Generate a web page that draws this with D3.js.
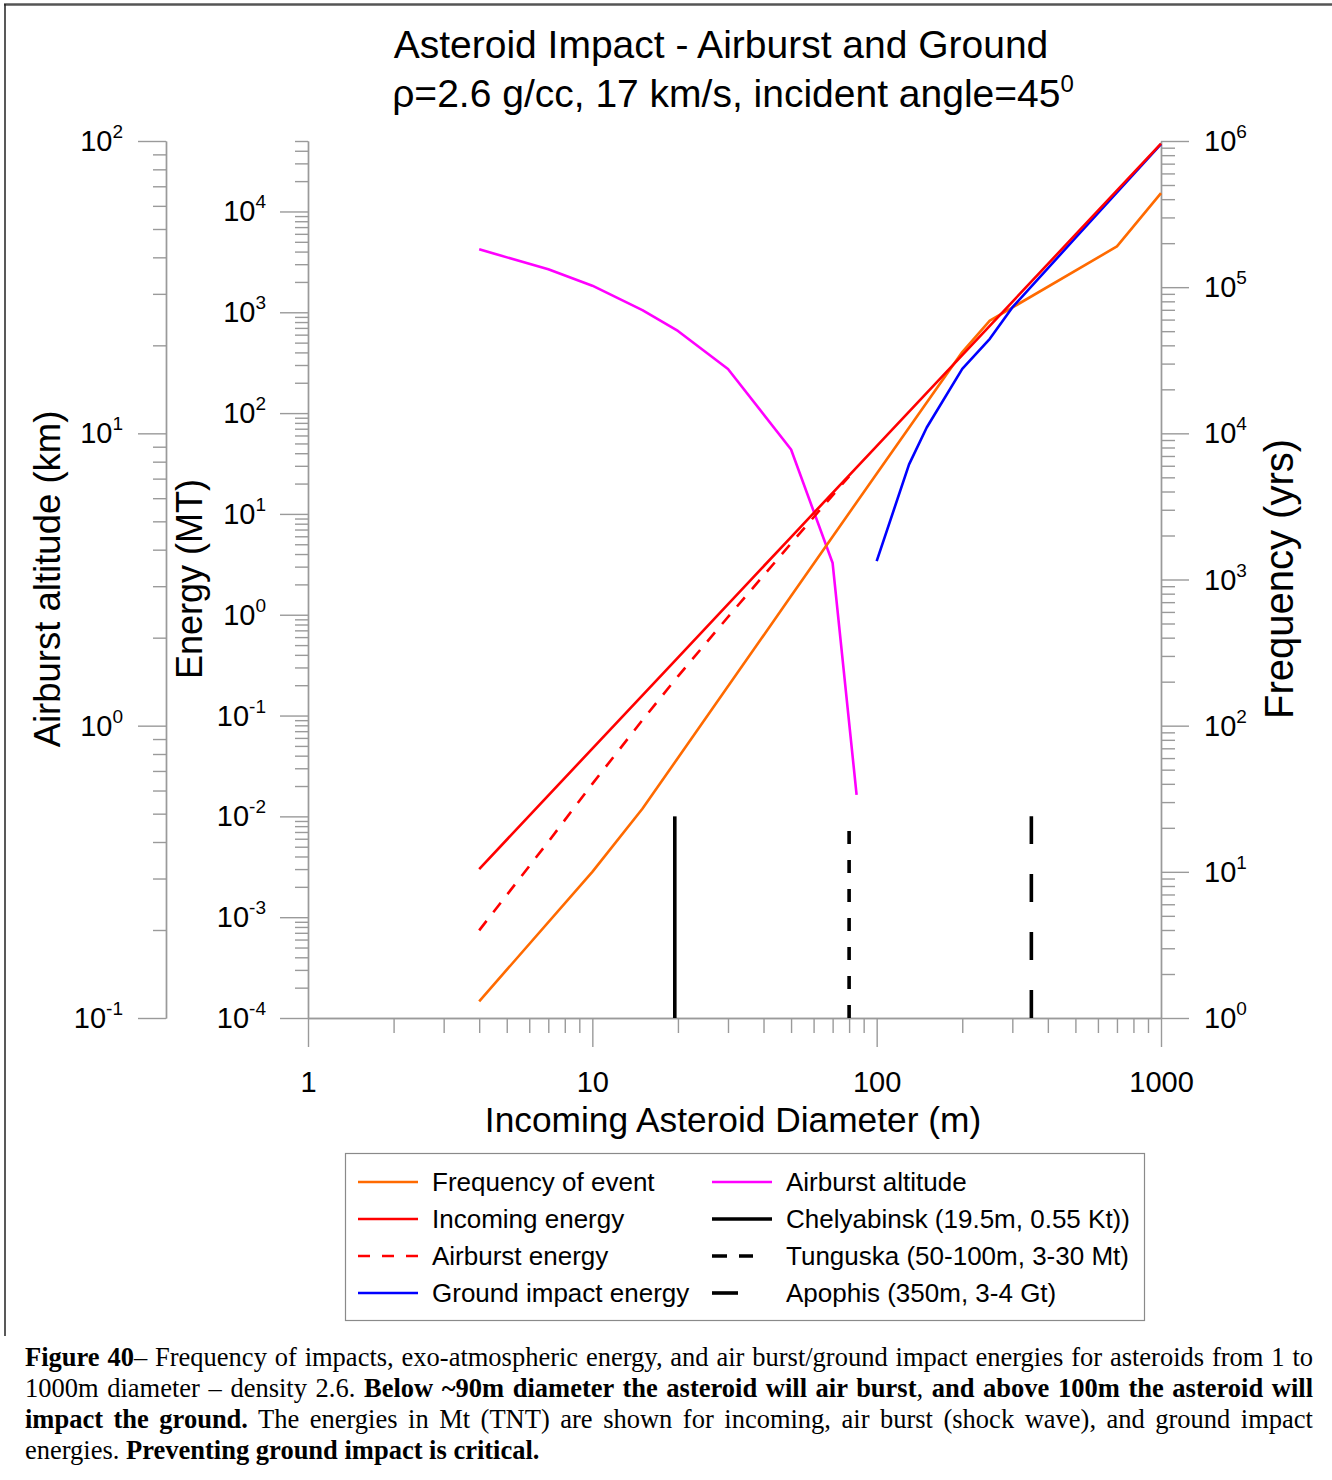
<!DOCTYPE html>
<html><head><meta charset="utf-8">
<script src="https://cdn.jsdelivr.net/npm/d3@7"></script>
<style>
body{margin:0;background:#fff;}
#wrap{position:relative;width:1332px;height:1480px;overflow:hidden;}
svg{position:absolute;left:0;top:0;}
.cap{position:absolute;left:25px;top:1342px;width:1288px;font-family:"Liberation Serif","Times New Roman",serif;font-size:26.5px;line-height:31px;color:#000;}
.cap div{text-align:justify;text-align-last:justify;}
.cap div.last{text-align-last:left;}
</style></head>
<body><div id="wrap"></div>
<script>
// ---------- data ----------
const xMajorTicks = [1, 10, 100, 1000];
const xTickLabels = ["1", "10", "100", "1000"];
const altExps = [-1, 0, 1, 2];
const energyExps = [-4, -3, -2, -1, 0, 1, 2, 3, 4];
const freqExps = [0, 1, 2, 3, 4, 5, 6];

const incomingD = [4, 10, 20, 50, 100, 200, 500, 1000];
const incomingE = [0.0030, 0.047, 0.376, 5.9, 47, 376, 5880, 47000];
const airburstD = [4, 7, 10, 15, 20, 30, 50, 70, 80];
const airburstE = [0.00074, 0.0056, 0.021, 0.09, 0.245, 0.95, 5.1, 15.3, 23.6];
const groundD = [100, 130, 150, 200, 250, 300, 500, 700, 1000];
const groundE = [3.4, 31, 72, 275, 546, 1118, 5460, 15480, 46500];
const freqD = [4, 10, 15, 50, 100, 200, 250, 700, 1000];
const freqYrs = [1.3, 10, 27, 770, 5300, 36000, 59000, 190000, 440000];
const altD = [4, 7, 10, 15, 20, 30, 50, 70, 85];
const altKm = [42.6, 36.4, 32, 26.4, 22.4, 16.6, 8.8, 3.6, 0.58];
const eventNames = ["Chelyabinsk", "Tunguska", "Apophis"];
const eventD = [19.5, 80, 350];
const eventE = [1e-4, 1e-2];

const legendLeft = ["Frequency of event", "Incoming energy", "Airburst energy", "Ground impact energy"];
const legendRight = ["Airburst altitude", "Chelyabinsk (19.5m, 0.55 Kt))", "Tunguska (50-100m, 3-30 Mt)", "Apophis (350m, 3-4 Gt)"];

// ---------- setup ----------
const W = 1332, H = 1480;
const FONT = '"Liberation Sans", Arial, sans-serif';
const svg = d3.select("#wrap").append("svg").attr("width", W).attr("height", H)
  .style("font-family", FONT);

const x = d3.scaleLog().domain([1, 1000]).range([308, 1161]);
const yAlt = d3.scaleLog().domain([0.1, 100]).range([1018, 141]);
const yE = d3.scaleLog().domain([1e-4, 5e4]).range([1018, 141]);
const yF = d3.scaleLog().domain([1, 1e6]).range([1018, 141]);

const AX = "#9a9a9a";

// frame
svg.append("line").attr("x1", 4).attr("x2", W).attr("y1", 4.5).attr("y2", 4.5).attr("stroke", "#555").attr("stroke-width", 2.5);
svg.append("line").attr("x1", 5).attr("x2", 5).attr("y1", 4).attr("y2", 1336).attr("stroke", "#222").attr("stroke-width", 1.5);

function minorVals(lo, hi) {
  const out = [];
  for (let e = Math.floor(Math.log10(lo)) ; e <= Math.ceil(Math.log10(hi)); e++) {
    for (let m = 2; m <= 9; m++) { const v = m * Math.pow(10, e); if (v >= lo * 0.999 && v <= hi * 1.001) out.push(v); }
  }
  return out;
}
function styleAxis(g) {
  g.selectAll("path,line").attr("stroke", AX).attr("stroke-width", 1.4);
  g.selectAll("text").remove();
}

// altitude axis (outer left)
const gAltMin = svg.append("g").attr("transform", "translate(166,0)")
  .call(d3.axisLeft(yAlt).tickValues(minorVals(0.1, 100)).tickSize(13).tickSizeOuter(0).tickFormat(""));
styleAxis(gAltMin);
const gAlt = svg.append("g").attr("transform", "translate(166,0)")
  .call(d3.axisLeft(yAlt).tickValues(altExps.map(e => Math.pow(10, e))).tickSize(28).tickSizeOuter(0).tickFormat(""));
styleAxis(gAlt);

// energy axis (inner left)
const gEMin = svg.append("g").attr("transform", "translate(308,0)")
  .call(d3.axisLeft(yE).tickValues(minorVals(1e-4, 5e4)).tickSize(13).tickSizeOuter(0).tickFormat(""));
styleAxis(gEMin);
const gE = svg.append("g").attr("transform", "translate(308,0)")
  .call(d3.axisLeft(yE).tickValues(energyExps.map(e => Math.pow(10, e))).tickSize(28).tickSizeOuter(0).tickFormat(""));
styleAxis(gE);

// frequency axis (right)
const gFMin = svg.append("g").attr("transform", "translate(1161,0)")
  .call(d3.axisRight(yF).tickValues(minorVals(1, 1e6)).tickSize(14).tickSizeOuter(0).tickFormat(""));
styleAxis(gFMin);
const gF = svg.append("g").attr("transform", "translate(1161,0)")
  .call(d3.axisRight(yF).tickValues(freqExps.map(e => Math.pow(10, e))).tickSize(28).tickSizeOuter(0).tickFormat(""));
styleAxis(gF);

// x axis
const gXMin = svg.append("g").attr("transform", "translate(0,1018)")
  .call(d3.axisBottom(x).tickValues(minorVals(1, 1000)).tickSize(15).tickSizeOuter(0).tickFormat(""));
styleAxis(gXMin);
const gX = svg.append("g").attr("transform", "translate(0,1018)")
  .call(d3.axisBottom(x).tickValues(xMajorTicks).tickSize(29).tickSizeOuter(0).tickFormat((d, i) => xTickLabels[i]).tickPadding(24));
gX.selectAll("path,line").attr("stroke", AX).attr("stroke-width", 1.4);
gX.selectAll("text").attr("font-size", 29).attr("font-family", FONT).attr("fill", "#000");

// power-of-ten labels
function powLabel(xp, yp, exp, anchor) {
  const t = svg.append("text").attr("x", xp).attr("y", yp + 10).attr("text-anchor", anchor)
    .attr("font-size", 29).attr("fill", "#000");
  t.append("tspan").text("10");
  t.append("tspan").attr("dy", -13).attr("font-size", 19).text(String(exp));
}
altExps.forEach(e => powLabel(123, yAlt(Math.pow(10, e)), e, "end"));
energyExps.forEach(e => powLabel(266, yE(Math.pow(10, e)), e, "end"));
freqExps.forEach(e => powLabel(1204, yF(Math.pow(10, e)), e, "start"));

// axis titles
svg.append("text").attr("transform", "translate(60,579) rotate(-90)").attr("text-anchor", "middle")
  .attr("font-size", 36.5).text("Airburst altitude (km)");
svg.append("text").attr("transform", "translate(202,579) rotate(-90)").attr("text-anchor", "middle")
  .attr("font-size", 36).text("Energy (MT)");
svg.append("text").attr("transform", "translate(1293,579) rotate(-90)").attr("text-anchor", "middle")
  .attr("font-size", 40).text("Frequency (yrs)");
svg.append("text").attr("x", 733).attr("y", 1132).attr("text-anchor", "middle")
  .attr("font-size", 35.3).text("Incoming Asteroid Diameter (m)");

// title
svg.append("text").attr("x", 721).attr("y", 58).attr("text-anchor", "middle").attr("font-size", 39)
  .text("Asteroid Impact - Airburst and Ground");
const t2 = svg.append("text").attr("x", 733).attr("y", 107).attr("text-anchor", "middle").attr("font-size", 39);
t2.append("tspan").text("ρ=2.6 g/cc, 17 km/s, incident angle=45");
t2.append("tspan").attr("dy", -15).attr("font-size", 24).text("0");

// ---------- series ----------
const COL = { orange: "#ff6a00", red: "#ff0000", magenta: "#ff00ff", blue: "#0000ff", black: "#000" };
function drawLine(ds, vs, ys, color, dash, width) {
  const pts = ds.map((d, i) => [x(d), ys(vs[i])]);
  svg.append("path").attr("d", d3.line()(pts)).attr("fill", "none").attr("stroke", color)
    .attr("stroke-width", width || 2.6).attr("stroke-dasharray", dash || null)
    .attr("stroke-linejoin", "round");
}
drawLine(altD, altKm, yAlt, COL.magenta);
drawLine(freqD, freqYrs, yF, COL.orange);
drawLine(groundD, groundE, yE, COL.blue);
drawLine(airburstD, airburstE, yE, COL.red, "12,11");
drawLine(incomingD, incomingE, yE, COL.red);

// event markers (drawn bottom-up)
const eventDash = [null, "13,16", "28,30"];
eventD.forEach((d, i) => {
  svg.append("path").attr("d", d3.line()([[x(d), yE(eventE[0])], [x(d), yE(eventE[1])]]))
    .attr("stroke", COL.black).attr("stroke-width", 3.6).attr("fill", "none")
    .attr("stroke-dasharray", eventDash[i]);
});

// ---------- legend ----------
const lg = svg.append("g");
lg.append("rect").attr("x", 345.5).attr("y", 1153.5).attr("width", 799).attr("height", 167)
  .attr("fill", "#fff").attr("stroke", "#8a8a8a").attr("stroke-width", 1.2);
const rowsY = [1182, 1219, 1256, 1293];
const leftStyles = [[COL.orange, null], [COL.red, null], [COL.red, "12,12"], [COL.blue, null]];
legendLeft.forEach((s, i) => {
  lg.append("line").attr("x1", 358).attr("x2", 418).attr("y1", rowsY[i]).attr("y2", rowsY[i])
    .attr("stroke", leftStyles[i][0]).attr("stroke-width", 2.6).attr("stroke-dasharray", leftStyles[i][1]);
  lg.append("text").attr("x", 432).attr("y", rowsY[i] + 9).attr("font-size", 26).text(s);
});
const rightSeg = [[712, 772, COL.magenta, 2.6, null], [712, 772, COL.black, 3.6, null], [712, 753, COL.black, 3.6, "15,12"], [712, 738, COL.black, 3.6, null]];
legendRight.forEach((s, i) => {
  const r = rightSeg[i];
  lg.append("line").attr("x1", r[0]).attr("x2", r[1]).attr("y1", rowsY[i]).attr("y2", rowsY[i])
    .attr("stroke", r[2]).attr("stroke-width", r[3]).attr("stroke-dasharray", r[4]);
  lg.append("text").attr("x", 786).attr("y", rowsY[i] + 9).attr("font-size", 26).text(s);
});

// ---------- caption ----------
const cap = d3.select("#wrap").append("div").attr("class", "cap");
cap.append("div").html("<b>Figure 40</b>– Frequency of impacts, exo-atmospheric energy, and air burst/ground impact energies for asteroids from 1 to");
cap.append("div").html("1000m diameter – density 2.6. <b>Below ~90m diameter the asteroid will air burst</b>, <b>and above 100m the asteroid will</b>");
cap.append("div").html("<b>impact the ground.</b> The energies in Mt (TNT) are shown for incoming, air burst (shock wave), and ground impact");
cap.append("div").attr("class", "last").html("energies. <b>Preventing ground impact is critical.</b>");
</script>
</body></html>
